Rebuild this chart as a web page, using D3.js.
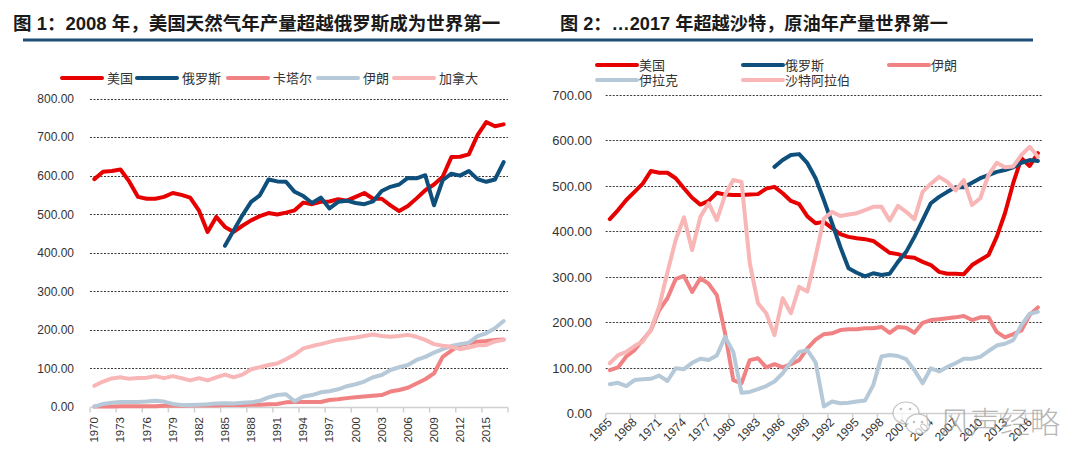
<!DOCTYPE html>
<html>
<head>
<meta charset="utf-8">
<script src="https://d3js.org/d3.v7.min.js"></script>
<style>
    body { margin: 0; background: #fff; }
    svg { display: block; font-family: "Liberation Sans", "Noto Sans CJK SC", sans-serif; }
</style>
</head>
<body>
<svg width="1080" height="469"></svg>
<script>
// ---- chart 1 : natural gas ----
const gasYears = d3.range(1970, 2018)
const gasTicks = [0, 100, 200, 300, 400, 500, 600, 700, 800]
const gasLabelYears = d3.range(1970, 2018, 3)
const usGas = [591, 610, 612, 616, 585, 545, 540, 540, 545, 555,
               550, 543, 510, 454, 493, 467, 454, 470, 484, 495,
               503, 499, 504, 510, 530, 526, 532, 533, 539, 535,
               545, 555, 540, 540, 523, 508, 521, 541, 562, 577,
               597, 648, 649, 655, 705, 739, 728, 733]
const ruGasStart = 1985
const ruGas = [418, 458, 497, 532, 549, 590, 585, 584, 558, 547,
               529, 543, 515, 532, 535, 529, 526, 533, 560, 571,
               577, 594, 593, 601, 523, 588, 605, 600, 612, 591,
               584, 590, 635]
const qaGas = [1, 1, 1, 2, 2, 2, 2, 2, 3, 3,
               3, 4, 4, 4, 4, 5, 5, 5, 6, 6,
               7, 8, 12, 13, 13, 13, 13, 18, 20, 23,
               25, 27, 29, 31, 40, 44, 50, 61, 72, 87,
               130, 146, 161, 165, 169, 171, 174, 175]
const irGas = [1, 8, 11, 13, 13, 13, 14, 16, 14, 8,
               5, 5, 6, 7, 9, 10, 9, 11, 12, 16,
               25, 31, 33, 15, 27, 31, 38, 41, 46, 54,
               59, 66, 77, 83, 96, 103, 109, 122, 130, 141,
               150, 158, 163, 167, 184, 191, 204, 223]
const caGas = [55, 66, 74, 77, 73, 75, 76, 80, 75, 80,
               75, 69, 75, 69, 77, 84, 77, 84, 98, 103,
               109, 113, 124, 136, 152, 158, 163, 169, 174, 177,
               180, 184, 188, 184, 182, 184, 187, 182, 174, 163,
               159, 156, 150, 154, 160, 161, 170, 174]

// ---- chart 2 : crude oil ----
const oilYears = d3.range(1965, 2018)
const oilTicks = [0, 100, 200, 300, 400, 500, 600, 700]
const oilLabelYears = d3.range(1965, 2018, 3)
const usOil = [427, 447, 469, 487, 505, 533, 529, 529, 517, 495,
               474, 459, 467, 485, 481, 480, 480, 481, 482, 494,
               498, 484, 467, 460, 433, 418, 421, 407, 394, 388,
               385, 383, 379, 366, 353, 350, 344, 342, 333, 326,
               311, 307, 307, 306, 326, 337, 348, 388, 440, 506,
               561, 544, 572]
const ruOilStart = 1985
const ruOil = [542, 557, 568, 570, 550, 517, 469, 418, 366, 319,
               309, 301, 308, 304, 307, 333, 355, 388, 425, 462,
               476, 487, 497, 497, 507, 517, 524, 531, 535, 541,
               551, 557, 555]
const irOil = [95, 101, 125, 139, 161, 183, 227, 253, 295, 302,
               267, 297, 285, 260, 176, 73, 66, 117, 121, 101,
               108, 101, 108, 117, 143, 162, 174, 176, 183, 185,
               185, 187, 187, 190, 177, 190, 188, 177, 199, 205,
               207, 209, 211, 214, 205, 211, 211, 179, 167, 174,
               182, 216, 233]
const iqOil = [64, 67, 60, 73, 75, 76, 83, 71, 99, 97,
               111, 120, 117, 127, 168, 135, 45, 47, 53, 60,
               70, 88, 113, 135, 139, 112, 15, 26, 22, 23,
               26, 28, 62, 125, 128, 126, 119, 95, 66, 99,
               92, 102, 110, 120, 120, 124, 137, 149, 153, 161,
               194, 219, 223]
const saOil = [110, 128, 135, 148, 158, 185, 235, 310, 381, 431,
               359, 432, 462, 425, 480, 513, 509, 330, 242, 220,
               172, 253, 220, 278, 268, 345, 428, 443, 434, 437,
               440, 447, 454, 454, 424, 456, 443, 427, 487, 505,
               520, 509, 490, 513, 458, 473, 524, 551, 541, 543,
               568, 586, 564]

const cRed = "#E60000", cNavy = "#0F4F7B", cSalmon = "#F08283", cGrey = "#B6C9D8", cPink = "#F8B6B6"

function series(years, vals, start) {
    const s = start || years[0]
    return years.map(yr => ({ year: yr, v: (yr - s >= 0 && yr - s < vals.length) ? vals[yr - s] : null }))
}

const svg = d3.select("svg")

// titles and the blue rule under them
svg.append("text").attr("x", 13).attr("y", 30)
    .style("font-size", "18.5px").style("font-weight", "bold").attr("fill", "#1a1a1a")
    .text("图 1：2008 年，美国天然气年产量超越俄罗斯成为世界第一")
svg.append("text").attr("x", 560).attr("y", 30)
    .style("font-size", "18.2px").style("font-weight", "bold").attr("fill", "#1a1a1a")
    .text("图 2：…2017 年超越沙特，原油年产量世界第一")
svg.append("line").attr("x1", 23).attr("x2", 1033).attr("y1", 40).attr("y2", 40)
    .attr("stroke", "#1F4E79").attr("stroke-width", 3)

function drawChart(cfg) {
    const x = d3.scaleBand().domain(cfg.years).range([cfg.x0, cfg.x1]).padding(0)
    const y = d3.scaleLinear().domain([0, cfg.ticks[cfg.ticks.length - 1]]).range([cfg.y0, cfg.y1])
    const g = svg.append("g")
    const cx = yr => x(yr) + x.bandwidth() / 2

    // dashed grid
    g.selectAll(".grid").data(cfg.ticks.filter(t => t > 0)).enter().append("line")
        .attr("x1", cfg.x0).attr("x2", cfg.x1)
        .attr("y1", d => Math.round(y(d)) + 0.5).attr("y2", d => Math.round(y(d)) + 0.5)
        .attr("stroke", "#222").attr("stroke-width", 0.9).attr("stroke-dasharray", "2,1.5")

    // y labels
    g.selectAll(".yl").data(cfg.ticks).enter().append("text")
        .attr("x", cfg.yLabelX).attr("y", d => y(d)).attr("dy", "0.36em")
        .attr("text-anchor", "end").style("font-size", cfg.yFont).attr("fill", "#333")
        .text(d => d.toFixed(2))

    // x axis line and ticks
    const ay = Math.round(y(0)) + 0.5
    g.append("line").attr("x1", cfg.x0).attr("x2", cfg.x1).attr("y1", ay).attr("y2", ay)
        .attr("stroke", "#d0d0d0").attr("stroke-width", 1.5)
    const tickPos = cfg.labelYears.map(yr => x(yr)).concat([cfg.x1])
    g.selectAll(".tk").data(tickPos).enter().append("line")
        .attr("x1", d => d).attr("x2", d => d).attr("y1", ay).attr("y2", ay + 5)
        .attr("stroke", "#d0d0d0").attr("stroke-width", 1.5)

    // x labels
    g.selectAll(".xl").data(cfg.labelYears).enter().append("text")
        .attr("transform", d => `translate(${cx(d) + cfg.xlDx},${cfg.xlY}) rotate(${cfg.xlRot})`)
        .attr("text-anchor", "end").style("font-size", cfg.xFont).attr("fill", "#333")
        .text(d => d)

    // lines
    const line = d3.line().defined(d => d.v != null).x(d => cx(d.year)).y(d => y(d.v))
    cfg.series.forEach(s => {
        g.append("path").datum(series(cfg.years, s.values, s.start))
            .attr("d", line).attr("fill", "none").attr("stroke", s.color)
            .attr("stroke-width", 4).attr("stroke-linejoin", "round").attr("stroke-linecap", "round")
    })

    // legend
    cfg.series.forEach((s, i) => {
        const p = cfg.legendPos[i]
        g.append("line").attr("x1", p[0]).attr("x2", p[0] + 40).attr("y1", p[1]).attr("y2", p[1])
            .attr("stroke", s.color).attr("stroke-width", 4).attr("stroke-linecap", "round")
        g.append("text").attr("x", p[0] + 40 + cfg.legendGap).attr("y", p[1]).attr("dy", "0.36em")
            .style("font-size", "13px").attr("fill", "#333").text(s.name)
    })
}

drawChart({
    years: gasYears, ticks: gasTicks, labelYears: gasLabelYears,
    x0: 90, x1: 508, y0: 407, y1: 98.5,
    yLabelX: 74, yFont: "12px", xFont: "11.5px", xlDx: 4, xlY: 417, xlRot: -90,
    series: [
        { name: "美国", values: usGas, color: cRed },
        { name: "俄罗斯", values: ruGas, start: ruGasStart, color: cNavy },
        { name: "卡塔尔", values: qaGas, color: cSalmon },
        { name: "伊朗", values: irGas, color: cGrey },
        { name: "加拿大", values: caGas, color: cPink }
    ],
    legendPos: [[62, 78], [137, 78], [228, 78], [318, 78], [394, 78]], legendGap: 5
})

drawChart({
    years: oilYears, ticks: oilTicks, labelYears: oilLabelYears,
    x0: 605.7, x1: 1042, y0: 413.3, y1: 95,
    yLabelX: 592, yFont: "13px", xFont: "12px", xlDx: 3, xlY: 423, xlRot: -45,
    series: [
        { name: "美国", values: usOil, color: cRed },
        { name: "俄罗斯", values: ruOil, start: ruOilStart, color: cNavy },
        { name: "伊朗", values: irOil, color: cSalmon },
        { name: "伊拉克", values: iqOil, color: cGrey },
        { name: "沙特阿拉伯", values: saOil, color: cPink }
    ],
    legendPos: [[597, 65], [743, 65], [889, 65], [597, 80], [743, 80]], legendGap: 2
})

// watermark
const wm = svg.append("g").attr("opacity", 0.7)
wm.append("ellipse").attr("cx", 906).attr("cy", 413).attr("rx", 13).attr("ry", 11)
    .attr("fill", "#fff").attr("stroke", "#aaa").attr("stroke-width", 1.2)
wm.append("ellipse").attr("cx", 918).attr("cy", 424).attr("rx", 12).attr("ry", 10)
    .attr("fill", "#fff").attr("stroke", "#aaa").attr("stroke-width", 1.2)
wm.selectAll(".eye").data([[901, 409], [910, 409], [914, 422], [922, 422]]).enter().append("circle")
    .attr("cx", d => d[0]).attr("cy", d => d[1]).attr("r", 1.3).attr("fill", "#aaa")
wm.append("text").attr("x", 940).attr("y", 433)
    .style("font-size", "30px").style("font-family", "Noto Sans CJK SC").style("font-weight", 300)
    .attr("fill", "#999").text("风声经略")
</script>
</body>
</html>
